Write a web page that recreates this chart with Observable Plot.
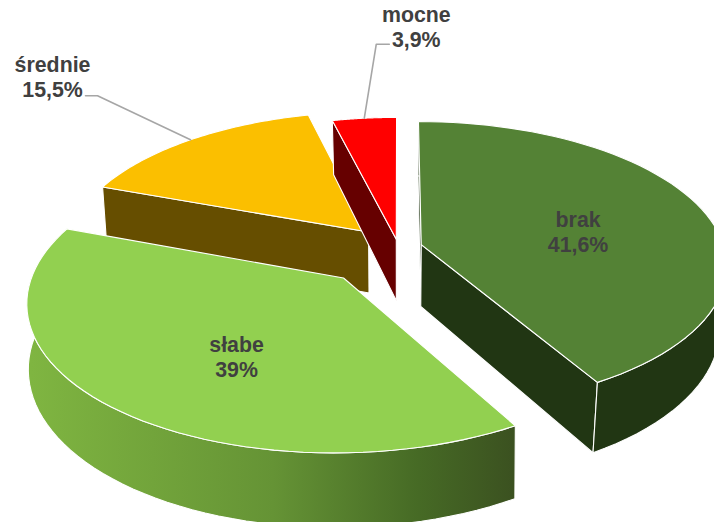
<!DOCTYPE html>
<html><head><meta charset="utf-8">
<script src="https://cdn.jsdelivr.net/npm/d3@7"></script>
<script src="https://cdn.jsdelivr.net/npm/@observablehq/plot@0.6"></script>
<style>html,body{margin:0;padding:0;background:#fff}svg{display:block}</style>
</head><body><div id="chart"></div>
<script>
// Data
const categories = ["brak", "słabe", "średnie", "mocne"];
const values = [41.6, 39, 15.5, 3.9];

// Style
const topColors = ["#548235", "#92D050", "#FBBF00", "#FF0000"];
const wallColors = ["#213613", "url(#wallGradient)", "#664E00", "#660000"];
const drawOrder = [2, 3, 0, 1];
const visibleWalls = [["start", "end", "arc"], ["arc"], ["start"], ["start"]];

// Perspective model of the exploded 3-D pie
const view = {cx: 398, cy: 247, R: 303, Rb: 141, k: 0.14, depth: 62};
const explode = [0.078, 0.274, 0.15, 0.06];
const converge = [0.022, 0.004, 0.014, 0.02];

const total = d3.sum(values);
let run = 0;
const slices = values.map((v, i) => {
  const a0 = run / total * 2 * Math.PI;
  run += v;
  const a1 = run / total * 2 * Math.PI;
  const mid = (a0 + a1) / 2;
  return {i, a0, a1, mid, ex: explode[i] * Math.sin(mid), ey: explode[i] * Math.cos(mid)};
});
function project(s, r, t, low = false) {
  const X = s.ex + r * Math.sin(t), Y = s.ey + r * Math.cos(t);
  const w = 1 + view.k * Y;
  let x = view.cx + view.R * X / w, y = view.cy - view.Rb * Y / w;
  if (low) { x = view.cx + (x - view.cx) * (1 - converge[s.i]); y += view.depth / w; }
  return {x, y};
}
const arcAngles = s => d3.range(61).map(j => s.a0 + (s.a1 - s.a0) * j / 60);
const close = pts => [...pts, pts[0]];
const poly = (pts, fill) => Plot.line(close(pts), {x: "x", y: "y", fill, stroke: "white", strokeWidth: 1.1, strokeLinejoin: "miter"});

const faces = drawOrder.flatMap(i => {
  const s = slices[i];
  const ts = arcAngles(s);
  const apex = project(s, 0, 0), apexLow = project(s, 0, 0, true);
  const side = t => [apex, project(s, 1, t), project(s, 1, t, true), apexLow];
  const walls = {
    start: () => side(s.a0),
    end: () => side(s.a1),
    arc: () => [...ts.map(t => project(s, 1, t)), ...ts.slice().reverse().map(t => project(s, 1, t, true))]
  };
  return [
    ...visibleWalls[i].map(w => poly(walls[w](), wallColors[i])),
    poly([apex, ...ts.map(t => project(s, 1, t))], topColors[i])
  ];
});

// Labels
const fmt = v => String(v).replace(".", ",");
const labelText = i => `${categories[i]}\n${fmt(values[i])}%`;
const inner = [{i: 0, r: 0.55, dx: 0, dy: 6.5}, {i: 1, r: 0.55, dx: 14, dy: 11.5}];
const outer = [
  {i: 2, f: 0.5, elbow: [-93, -44], end: [-105, -44], tx: -33, ty: -19.5},
  {i: 3, f: 0.5, elbow: [12, -74], end: [25, -74], tx: 27, ty: -18}
];
const innerRows = inner.map(d => {
  const s = slices[d.i], p = project(s, d.r, s.mid);
  return {x: p.x + d.dx, y: p.y + d.dy, text: labelText(d.i)};
});
const outerRows = outer.map(d => {
  const s = slices[d.i], p = project(s, 1, s.a0 + (s.a1 - s.a0) * d.f);
  const e = {x: p.x + d.end[0], y: p.y + d.end[1]};
  return {leader: [p, {x: p.x + d.elbow[0], y: p.y + d.elbow[1]}, e],
          x: e.x + d.tx, y: e.y + d.ty, text: labelText(d.i)};
});

function gradientDefs() {
  const defs = d3.create("svg:defs");
  const g = defs.append("linearGradient").attr("id", "wallGradient")
    .attr("gradientUnits", "userSpaceOnUse")
    .attr("x1", project(slices[1], 1, 3 * Math.PI / 2).x).attr("x2", project(slices[1], 1, slices[1].a0).x)
    .attr("y1", 0).attr("y2", 0);
  [[0, "#7fb541"], [0.5, "#659335"], [0.8, "#466a25"], [1, "#3b5120"]]
    .forEach(([o, c]) => g.append("stop").attr("offset", o).attr("stop-color", c));
  return defs.node();
}

const textStyle = {x: "x", y: "y", text: "text", fill: "#404040", fontSize: 21.33, fontWeight: 700,
  fontFamily: "Liberation Sans", lineHeight: 1.17, textAnchor: "middle"};

const chart = Plot.plot({
  width: 714, height: 522,
  margin: 0,
  x: {domain: [0, 714], range: [0, 714], axis: null},
  y: {domain: [0, 522], range: [0, 522], axis: null},
  style: {background: "white", overflow: "hidden"},
  marks: [
    gradientDefs,
    ...faces,
    ...outerRows.map(r => Plot.line(r.leader, {x: "x", y: "y", stroke: "#A6A6A6", strokeWidth: 1.6})),
    Plot.text(innerRows, textStyle),
    Plot.text(outerRows, textStyle)
  ]
});
document.getElementById("chart").append(chart);
</script></body></html>
